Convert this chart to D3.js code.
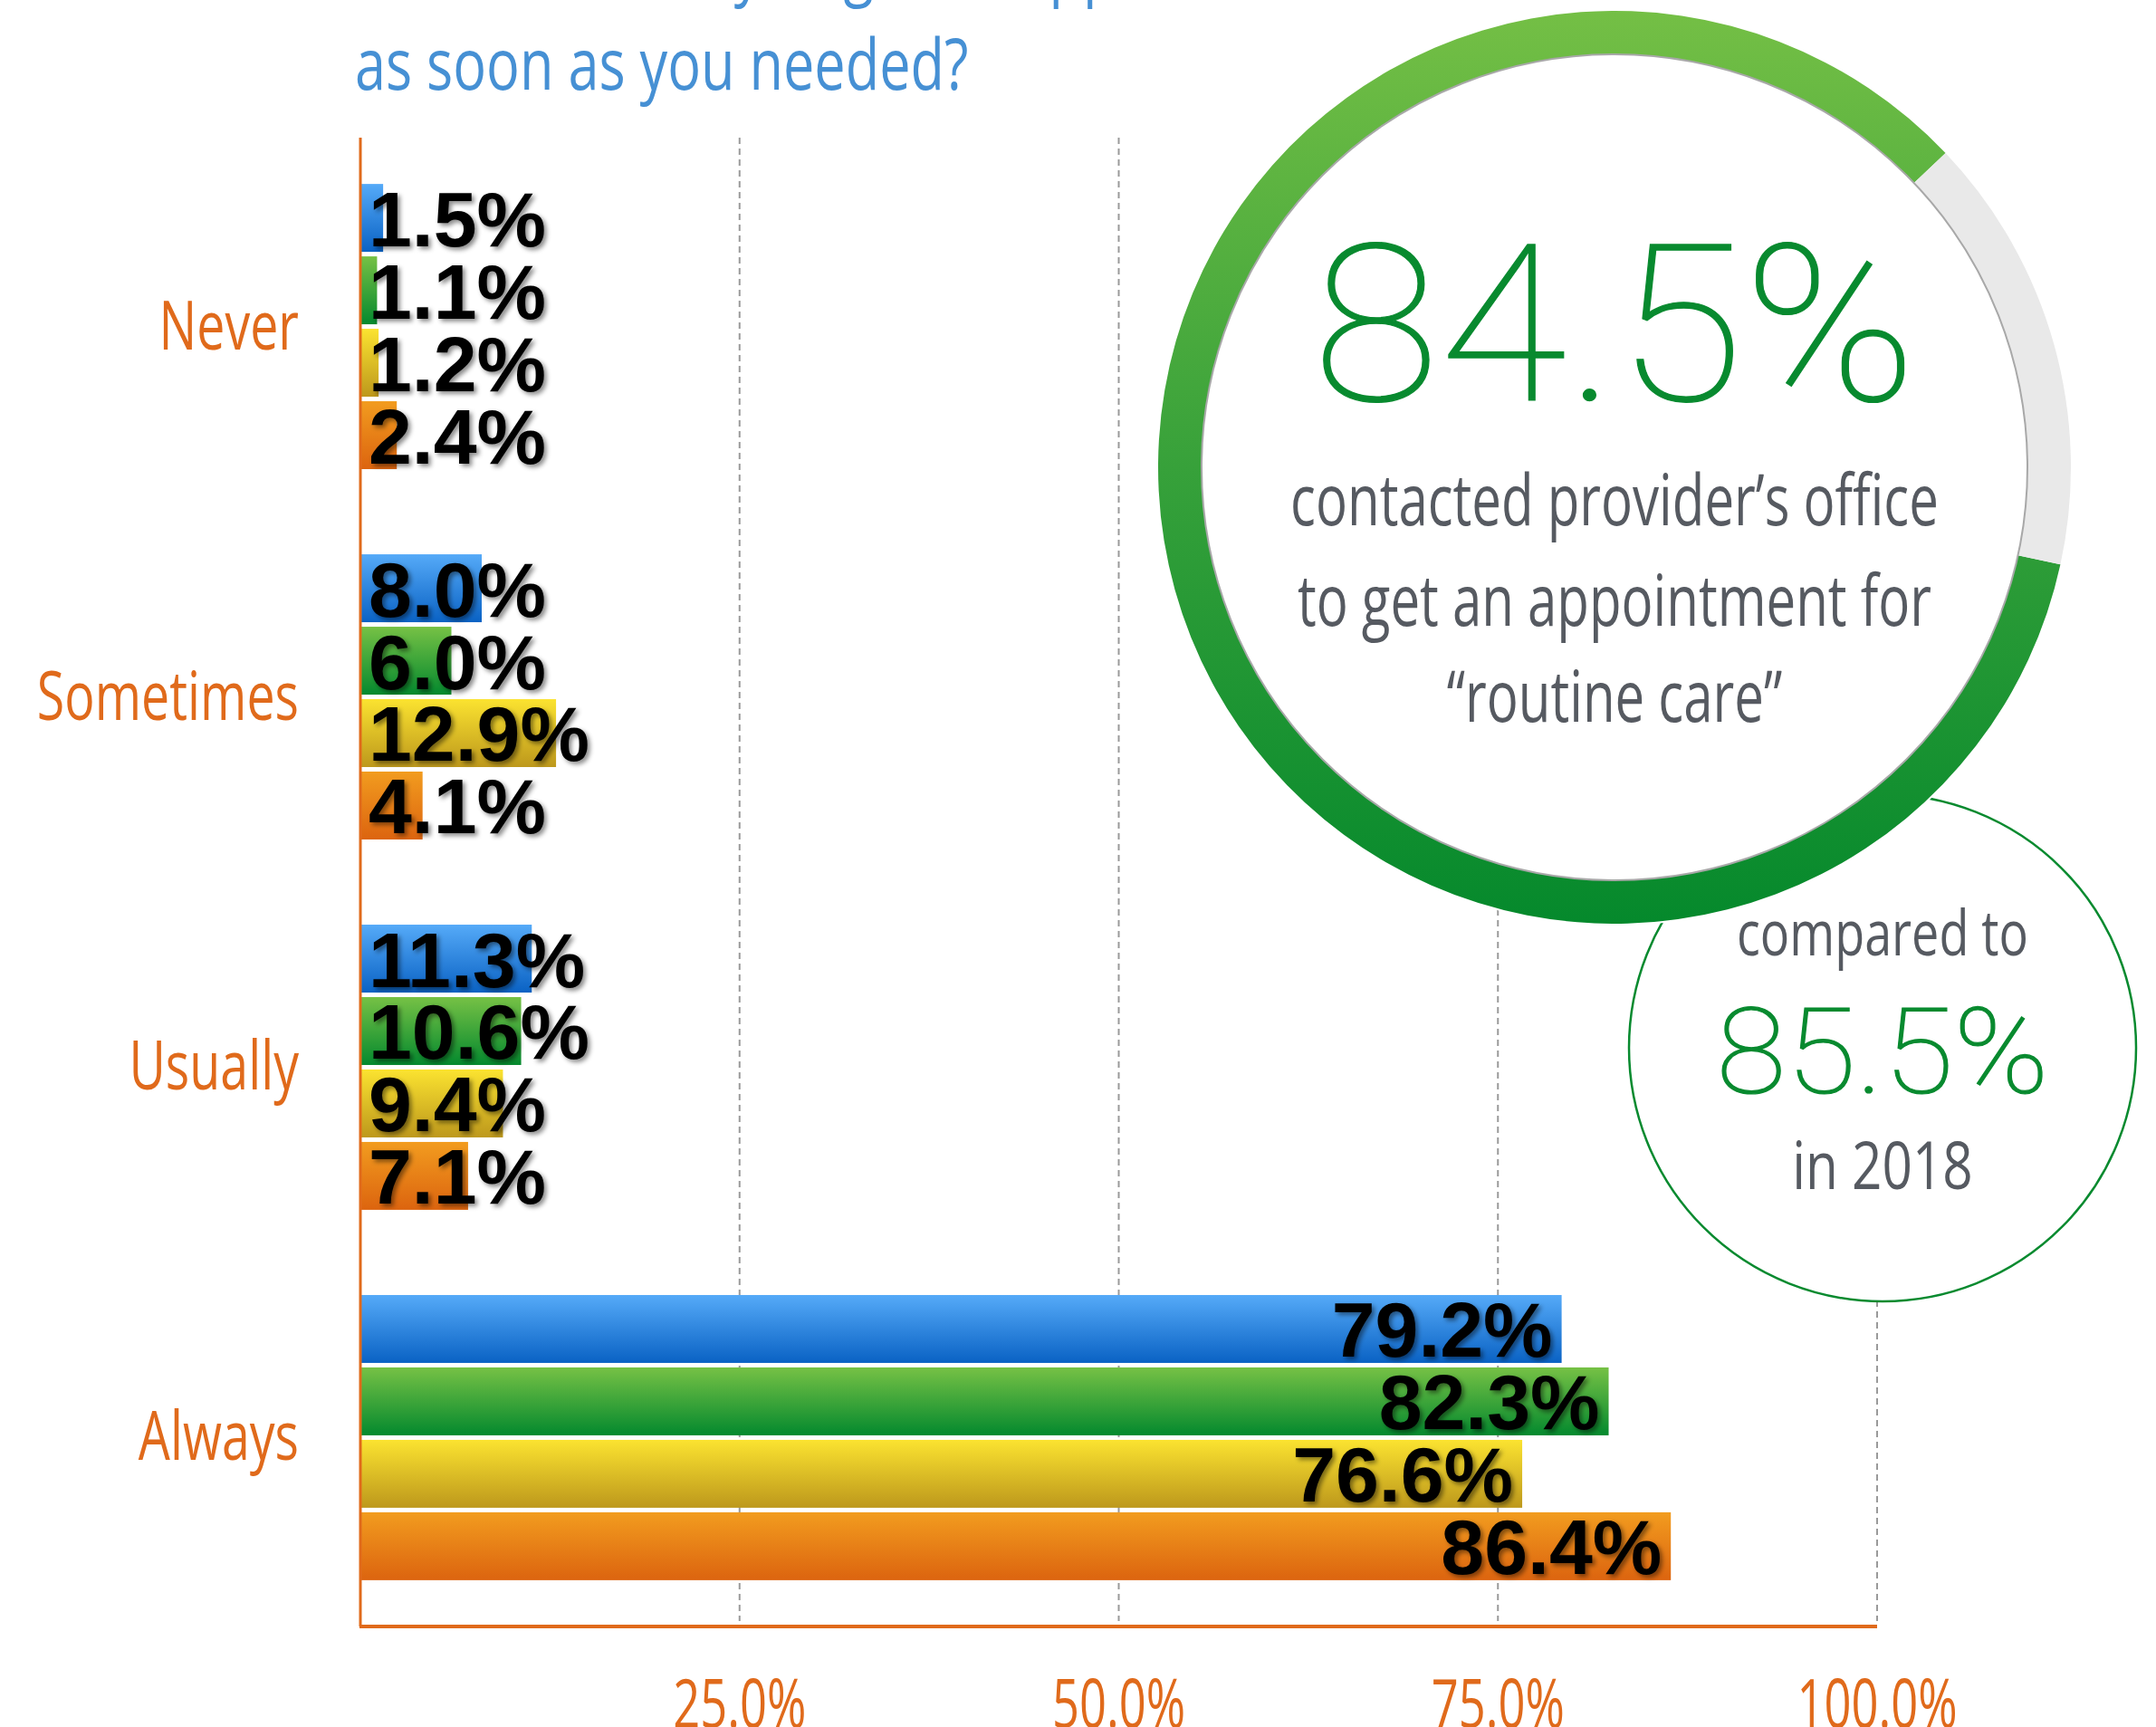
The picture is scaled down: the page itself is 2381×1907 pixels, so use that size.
<!DOCTYPE html>
<html>
<head>
<meta charset="utf-8">
<script src="https://cdn.jsdelivr.net/npm/d3@7"></script>
<style>
  body { margin: 0; background: #fff; }
  svg { display: block; }
</style>
</head>
<body>
<div id="chart"></div>
<script>
// chart data
var categories = ["Never", "Sometimes", "Usually", "Always"];
var seriesKeys = ["s1", "s2", "s3", "s4"];
var never     = [1.5, 1.1, 1.2, 2.4];
var sometimes = [8.0, 6.0, 12.9, 4.1];
var usually   = [11.3, 10.6, 9.4, 7.1];
var always    = [79.2, 82.3, 76.6, 86.4];
var tickValues = [25, 50, 75, 100];
var tickLabels = ["25.0%", "50.0%", "75.0%", "100.0%"];
var titleLines = ["How often did you get an appointment for routine care", "as soon as you needed?"];
var headline = 84.5;
var headlineText = ["contacted provider\u2019s office", "to get an appointment for", "\u201croutine care\u201d"];
var previous = 85.5;
var previousText = ["compared to", "in 2018"];

// bar colors, top -> bottom of gradient
var barColors = [["#55aaf8", "#0a62c4"], ["#76c145", "#04892e"], ["#fbe330", "#bd981c"], ["#f29c1f", "#dc640f"]];

var W = 2381, H = 1907;
var margin = {top: 152, left: 398, right: 308, bottom: 111};
var width = W - margin.left - margin.right,   // 1675
    height = H - margin.top - margin.bottom;  // 1644

var orange = "#e06a1b", blue = "#4690d4", green = "#088a2f", grayText = "#565a61";
var cond = "'Open Sans', sans-serif";

var rows = categories.map(function(c, i) {
    var vals = [never, sometimes, usually, always][i];
    return {cat: c, values: seriesKeys.map(function(k, j) { return {key: k, idx: j, value: vals[j]}; })};
});

var svg = d3.select("#chart").append("svg")
    .attr("width", W)
    .attr("height", H);

var defs = svg.append("defs");
barColors.forEach(function(c, i) {
    var lg = defs.append("linearGradient").attr("id", "bar" + i)
        .attr("x1", 0).attr("y1", 0).attr("x2", 0).attr("y2", 1);
    lg.append("stop").attr("offset", "0%").attr("stop-color", c[0]);
    lg.append("stop").attr("offset", "100%").attr("stop-color", c[1]);
});
defs.append("filter").attr("id", "shadow")
    .attr("x", "-10%").attr("y", "-20%").attr("width", "130%").attr("height", "150%")
  .append("feDropShadow")
    .attr("dx", 3).attr("dy", 3).attr("stdDeviation", 2.5)
    .attr("flood-color", "#000").attr("flood-opacity", 0.45);

// condensed text helper
function ctext(sel, x, y, str, size, sx, color, anchor) {
    return sel.append("text")
        .attr("transform", "translate(" + x + "," + y + ") scale(" + sx + ",1)")
        .attr("text-anchor", anchor || "start")
        .style("font-family", cond)
        .style("font-size", size + "px")
        .style("fill", color)
        .text(str);
}

// thin big numbers
function bigNum(x, y, str, size, sx) {
    return svg.append("text")
        .attr("transform", "translate(" + x + "," + y + ") scale(" + sx + ",1)")
        .attr("text-anchor", "middle")
        .style("font-family", "Roboto, sans-serif")
        .style("font-weight", 100)
        .style("font-size", size + "px")
        .style("fill", green)
        .style("stroke", green)
        .style("stroke-width", 1.2)
        .text(str);
}

// title (first line runs off the top of the picture)
ctext(svg, 392, -9, titleLines[0], 78, 0.785, blue);
ctext(svg, 392, 99, titleLines[1], 78, 0.785, blue);

var g = svg.append("g")
    .attr("transform", "translate(" + margin.left + "," + margin.top + ")");

// scales
var x = d3.scaleLinear().domain([0, 100]).range([0, width]);
var y0 = d3.scaleBand().domain(categories).range([0, height]).paddingInner(0.23).paddingOuter(0.125);
var y1 = d3.scaleBand().domain(seriesKeys).range([0, y0.bandwidth()]).paddingInner(0.0625);

// gridlines
g.selectAll(".grid")
    .data(tickValues)
  .enter().append("line")
    .attr("x1", function(d) { return x(d); })
    .attr("x2", function(d) { return x(d); })
    .attr("y1", 0)
    .attr("y2", height - 6)
    .style("stroke", "#9a9a9a")
    .style("stroke-width", 2)
    .style("stroke-dasharray", "7,5");

// bars
var groups = g.selectAll(".grp")
    .data(rows)
  .enter().append("g")
    .attr("transform", function(d) { return "translate(0," + y0(d.cat) + ")"; });

groups.selectAll("rect")
    .data(function(d) { return d.values; })
  .enter().append("rect")
    .attr("x", 0)
    .attr("y", function(d) { return y1(d.key); })
    .attr("width", function(d) { return x(d.value); })
    .attr("height", y1.bandwidth())
    .style("fill", function(d) { return "url(#bar" + d.idx + ")"; });

groups.selectAll(".lbl")
    .data(function(d) { return d.values; })
  .enter().append("text")
    .attr("x", function(d) { return d.value > 50 ? x(d.value) - 10 : 9; })
    .attr("y", function(d) { return y1(d.key) + y1.bandwidth() / 2 + 31; })
    .attr("text-anchor", function(d) { return d.value > 50 ? "end" : "start"; })
    .style("font-family", "'Liberation Sans', Arial, sans-serif")
    .style("font-weight", "bold")
    .style("font-size", "86px")
    .style("fill", "#000")
    .attr("filter", "url(#shadow)")
    .text(function(d) { return d.value.toFixed(1) + "%"; });

// category labels
categories.forEach(function(c) {
    ctext(g, -68, y0(c) + y0.bandwidth() / 2 + 25, c, 75, 0.74, orange, "end");
});

// axis lines
g.append("line").attr("x1", 0).attr("x2", 0).attr("y1", 0).attr("y2", height)
    .style("stroke", orange).style("stroke-width", 3);
g.append("line").attr("x1", -1).attr("x2", width).attr("y1", height).attr("y2", height)
    .style("stroke", orange).style("stroke-width", 4);

// tick labels
tickValues.forEach(function(t, i) {
    ctext(g, x(t), height + 112, tickLabels[i], 75, 0.7, orange, "middle");
});

// comparison circle (sits behind the big ring)
var sc = {x: 2079, y: 1157, r: 280};
svg.append("circle").attr("cx", sc.x).attr("cy", sc.y).attr("r", sc.r)
    .style("fill", "#fff").style("stroke", green).style("stroke-width", 2.5);

// big ring
var bc = {x: 1783, y: 516, r: 504, inner: 456};
var rg = defs.append("linearGradient").attr("id", "ring")
    .attr("gradientUnits", "userSpaceOnUse")
    .attr("x1", 0).attr("y1", -bc.r).attr("x2", 0).attr("y2", bc.r);
rg.append("stop").attr("offset", "0%").attr("stop-color", "#74bf45");
rg.append("stop").attr("offset", "50%").attr("stop-color", "#37a13a");
rg.append("stop").attr("offset", "100%").attr("stop-color", "#05892c");

var ring = svg.append("g").attr("transform", "translate(" + bc.x + "," + bc.y + ")");
ring.append("circle").attr("r", bc.r + 2).style("fill", "#fff");
var arc = d3.arc().innerRadius(bc.inner).outerRadius(bc.r);
var start = 102.3 * Math.PI / 180;
var end = start + headline / 100 * 2 * Math.PI;
ring.append("path")
    .attr("d", arc({startAngle: start, endAngle: end}))
    .style("fill", "url(#ring)");
ring.append("path")
    .attr("d", arc({startAngle: end, endAngle: start + 2 * Math.PI}))
    .style("fill", "#e9e9e9");
ring.append("circle").attr("r", bc.inner)
    .style("fill", "#fff").style("stroke", "#a8a8a8").style("stroke-width", 2);

// headline text
bigNum(bc.x, 442, headline.toFixed(1) + "%", 242, 1.06);
headlineText.forEach(function(t, i) {
    ctext(svg, bc.x, [580, 691, 797][i], t, 78, 0.746, grayText, "middle");
});

// comparison text
ctext(svg, sc.x, 1055, previousText[0], 70, 0.77, grayText, "middle");
bigNum(sc.x, 1207, previous.toFixed(1) + "%", 132, 1.07);
ctext(svg, sc.x, 1313, previousText[1], 74, 0.79, grayText, "middle");
</script>
</body>
</html>
